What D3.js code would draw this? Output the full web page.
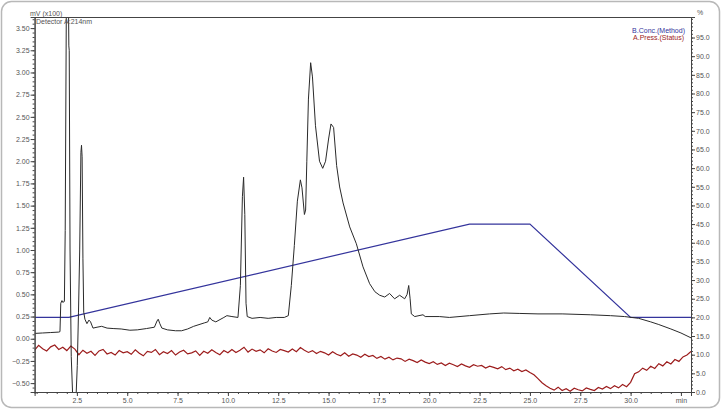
<!DOCTYPE html>
<html>
<head>
<meta charset="utf-8">
<script src="https://cdn.jsdelivr.net/npm/d3@7"></script>
<style>
  body { margin: 0; background: #fff; }
  svg { display: block; font-family: "Liberation Sans", Arial, sans-serif; }
</style>
</head>
<body>
<svg id="chart" width="722" height="411"></svg>
<script>
// detector signal, mV (x100)
var sigTime = [0.40, 0.80, 1.20, 1.60, 1.66, 1.70, 1.76, 1.80, 1.88, 1.92, 1.98, 2.08, 2.10, 2.12, 2.16, 2.22, 2.30, 2.45, 2.52, 2.58,
  2.64, 2.70, 2.73, 2.76, 2.80, 2.84, 2.90, 3.00, 3.10, 3.18, 3.30, 3.50, 3.73, 4.00, 4.30, 4.70, 5.13, 5.50, 5.96, 6.35,
  6.48, 6.54, 6.62, 6.72, 7.00, 7.40, 7.70, 8.00, 8.30, 8.85, 9.00, 9.10, 9.20, 9.40, 9.80, 9.95, 10.20, 10.50, 10.62, 10.72,
  10.78, 10.84, 10.90, 10.96, 11.20, 11.60, 12.00, 12.40, 12.80, 13.00, 13.15, 13.30, 13.45, 13.60, 13.68, 13.80, 13.86, 13.92, 14.00, 14.11,
  14.20, 14.35, 14.55, 14.71, 14.85, 15.00, 15.12, 15.25, 15.40, 15.55, 15.72, 16.05, 16.38, 16.71, 17.04, 17.30, 17.54, 17.79, 18.03, 18.28,
  18.53, 18.78, 18.90, 18.98, 19.05, 19.11, 19.28, 19.69, 19.80, 20.50, 21.00, 22.00, 23.00, 23.70, 24.50, 25.40, 26.60, 28.00, 29.00, 29.70,
  30.40, 31.00, 31.40, 32.00, 32.50, 33.00];
var sigValue = [0.06, 0.065, 0.07, 0.075, 0.08, 0.40, 0.43, 0.41, 0.42, 1.22, 3.90, 3.90, 3.30, 3.25, 1.00, -0.20, -0.70, -0.70, -0.30, 0.30,
  1.00, 2.10, 2.18, 2.05, 0.90, 0.30, 0.22, 0.17, 0.21, 0.19, 0.12, 0.13, 0.14, 0.12, 0.115, 0.11, 0.096, 0.10, 0.115, 0.13,
  0.20, 0.22, 0.17, 0.12, 0.10, 0.09, 0.09, 0.11, 0.14, 0.18, 0.19, 0.24, 0.21, 0.19, 0.24, 0.26, 0.25, 0.24, 0.60, 1.60,
  1.82, 1.40, 0.40, 0.25, 0.23, 0.24, 0.23, 0.24, 0.24, 0.26, 0.60, 1.05, 1.55, 1.79, 1.70, 1.40, 1.45, 2.00, 2.70, 3.11,
  2.95, 2.40, 2.00, 1.92, 2.00, 2.25, 2.42, 2.38, 1.95, 1.71, 1.53, 1.26, 1.07, 0.81, 0.62, 0.53, 0.49, 0.47, 0.51, 0.45,
  0.49, 0.45, 0.50, 0.60, 0.45, 0.28, 0.25, 0.27, 0.25, 0.25, 0.24, 0.26, 0.28, 0.29, 0.285, 0.28, 0.28, 0.27, 0.26, 0.25,
  0.23, 0.19, 0.16, 0.11, 0.065, 0.01];

// B.Conc. (method), %
var concTime = [0.4, 2.1, 22.0, 25.0, 30.0, 33.0];
var concValue = [20, 20, 45, 45, 20, 20];

// A.Press. (status), sampled every 0.2 min from 0.4 min
var pressStart = 0.4, pressStep = 0.2;
var pressValue = [11.2, 12.5, 11.6, 11.0, 12.1, 12.6, 11.4, 12.0, 11.1, 12.3, 11.5,
  10.0, 11.2, 10.4, 10.9, 9.8, 11.0, 11.4, 10.2, 10.6, 9.9, 11.1, 10.5, 10.8,
  10.1, 11.3, 10.4, 9.7, 10.9, 10.6, 11.4, 10.0, 10.8, 10.3, 11.1, 9.9, 10.7, 11.2, 10.2, 10.5, 11.0, 9.8, 10.9, 10.4, 11.3, 10.6, 10.0, 11.1, 10.5,
  11.4, 10.6, 11.2, 12.0, 10.7, 11.5, 10.9, 11.3, 10.5, 11.6, 11.0, 10.6, 11.4, 11.1, 10.7, 11.5, 10.8, 11.9, 11.2, 10.6,
  11.1, 10.3, 10.9, 10.5, 9.9, 10.8, 10.1, 9.7, 10.5, 9.6, 10.2, 9.9, 9.3, 10.1, 9.5, 9.8, 9.0,
  9.5, 8.8, 9.3, 8.6, 9.1, 8.9, 8.2, 8.8, 8.4, 7.9, 8.6, 8.0, 7.6,
  8.1, 7.4, 7.8, 7.1, 7.7, 7.3, 6.8, 7.5, 7.0, 6.6, 7.3, 6.9, 7.1, 6.4, 6.9, 6.6, 6.2, 6.8, 6.0, 6.4, 5.7, 6.1, 5.5, 5.9, 5.2,
  4.6, 3.6, 2.5, 1.7, 1.0,
  0.5, 1.3, 0.4, 0.9, 0.2, 1.0, 0.6, 0.3, 1.1, 0.7, 0.4, 1.2, 0.8, 1.5, 0.9, 1.7, 1.1, 2.0, 1.4,
  2.6, 4.9, 5.4, 6.4, 5.8, 6.9, 6.3, 7.6, 7.0, 8.1, 7.5, 8.7, 8.2, 9.4, 9.9, 10.9];

var leftTicks = [-0.50, -0.25, 0.00, 0.25, 0.50, 0.75, 1.00, 1.25, 1.50, 1.75, 2.00, 2.25, 2.50, 2.75, 3.00, 3.25, 3.50];
var rightTicks = [0, 5, 10, 15, 20, 25, 30, 35, 40, 45, 50, 55, 60, 65, 70, 75, 80, 85, 90, 95];
var timeTicks = [2.5, 5.0, 7.5, 10.0, 12.5, 15.0, 17.5, 20.0, 22.5, 25.0, 27.5, 30.0, 32.5];

var plotL = 34.6, plotR = 691, plotT = 17, plotB = 392;

var svg = d3.select("#chart");

svg.append("rect")
  .attr("x", 1.5).attr("y", 1.5)
  .attr("width", 718).attr("height", 406)
  .attr("rx", 10)
  .attr("fill", "#fff")
  .attr("stroke", "#b8b8b8")
  .attr("stroke-width", 1.5);

var x = d3.scaleLinear().domain([0.4, 33.0]).range([plotL, plotR]);
var yL = d3.scaleLinear().domain([-0.6, 3.625]).range([plotB, plotT]);
var yR = d3.scaleLinear().domain([0, 100.5]).range([plotB, plotT]);

svg.append("clipPath").attr("id", "plot")
  .append("rect")
  .attr("x", plotL).attr("y", plotT)
  .attr("width", plotR - plotL).attr("height", plotB - plotT);

var g = svg.append("g").attr("clip-path", "url(#plot)");

// pressure trace
var press = pressValue.map(function(v, i) { return [pressStart + i * pressStep, v]; });
g.append("path")
  .datum(press)
  .attr("fill", "none")
  .attr("stroke", "#9c1c1c")
  .attr("stroke-width", 1.2)
  .attr("d", d3.line().x(function(d) { return x(d[0]); }).y(function(d) { return yR(d[1]); }));

// gradient program
g.append("path")
  .datum(d3.zip(concTime, concValue))
  .attr("fill", "none")
  .attr("stroke", "#34349c")
  .attr("stroke-width", 1.2)
  .attr("d", d3.line().x(function(d) { return x(d[0]); }).y(function(d) { return yR(d[1]); }));

// detector signal
g.append("path")
  .datum(d3.zip(sigTime, sigValue))
  .attr("fill", "none")
  .attr("stroke", "#2a2a2a")
  .attr("stroke-width", 1)
  .attr("stroke-linejoin", "round")
  .attr("d", d3.line().x(function(d) { return x(d[0]); }).y(function(d) { return yL(d[1]); }));

// frame top
svg.append("line")
  .attr("x1", plotL).attr("x2", plotR)
  .attr("y1", plotT + 0.5).attr("y2", plotT + 0.5)
  .attr("stroke", "#444");

function styleAxis(sel) {
  sel.select(".domain").attr("stroke", "#444");
  sel.selectAll(".tick line").attr("stroke", "#444");
  sel.selectAll("text").attr("fill", "#555").attr("font-size", "7px");
}

// minor ticks
svg.append("g")
  .attr("transform", "translate(" + plotL + ",0)")
  .call(d3.axisLeft(yL).tickValues(d3.range(-0.6, 3.626, 0.05)).tickSize(2).tickFormat(""))
  .call(styleAxis);
svg.append("g")
  .attr("transform", "translate(" + plotR + ",0)")
  .call(d3.axisRight(yR).tickValues(d3.range(0, 100.5, 1)).tickSize(2).tickFormat(""))
  .call(styleAxis);
svg.append("g")
  .attr("transform", "translate(0," + plotB + ")")
  .call(d3.axisBottom(x).tickValues(d3.range(0.5, 33.01, 0.5)).tickSize(2).tickFormat(""))
  .call(styleAxis);

// major ticks
svg.append("g")
  .attr("transform", "translate(" + plotL + ",0)")
  .call(d3.axisLeft(yL).tickValues(leftTicks).tickSize(4).tickPadding(1).tickFormat(d3.format(".2f")))
  .call(styleAxis);
svg.append("g")
  .attr("transform", "translate(" + plotR + ",0)")
  .call(d3.axisRight(yR).tickValues(rightTicks).tickSize(4).tickPadding(1).tickFormat(d3.format(".1f")))
  .call(styleAxis);
svg.append("g")
  .attr("transform", "translate(0," + plotB + ")")
  .call(d3.axisBottom(x).tickValues(timeTicks).tickSize(4).tickPadding(2)
    .tickFormat(function(d) { return d === 32.5 ? "min" : d3.format(".1f")(d); }))
  .call(styleAxis);

// titles
svg.append("text").attr("x", 30).attr("y", 16)
  .attr("font-size", "7px").attr("fill", "#555").text("mV (x100)");
svg.append("text").attr("x", 36).attr("y", 24)
  .attr("font-size", "7px").attr("fill", "#555").text("Detector A:214nm");
svg.append("text").attr("x", 697).attr("y", 15)
  .attr("font-size", "7px").attr("fill", "#555").text("%");

svg.append("text").attr("x", 685).attr("y", 32.5).attr("text-anchor", "end")
  .attr("font-size", "7px").attr("fill", "#34349c").text("B.Conc.(Method)");
svg.append("text").attr("x", 684).attr("y", 39.5).attr("text-anchor", "end")
  .attr("font-size", "7px").attr("fill", "#9c1c1c").text("A.Press.(Status)");
</script>
</body>
</html>
